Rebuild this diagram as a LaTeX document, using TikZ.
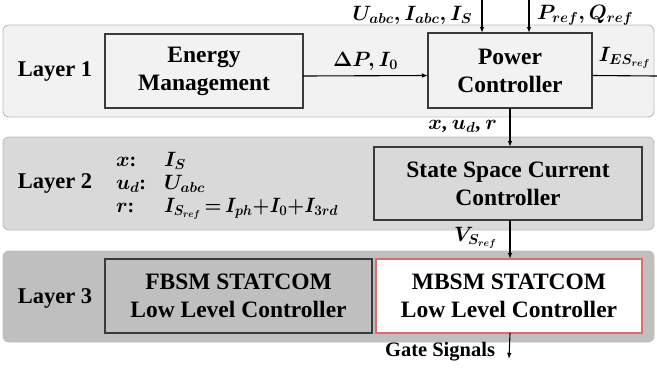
\documentclass[tikz,border=0pt]{standalone}
\usepackage{fontspec}
\setmainfont{Liberation Serif}
\usetikzlibrary{arrows.meta}
\definecolor{lone}{HTML}{F2F2F2}
\definecolor{ltwo}{HTML}{D9D9D9}
\definecolor{lthree}{HTML}{BFBFBF}
\definecolor{lborder}{HTML}{BDBDBD}
\definecolor{boxline}{HTML}{3A3A3A}
\definecolor{redline}{HTML}{E46A6A}
\begin{document}
\begin{tikzpicture}[x=1pt,y=-1pt,
  every node/.style={inner sep=0pt, outer sep=0pt},
  layerbox/.style={draw=lborder, line width=0.9pt, rounded corners=6pt, fill=#1, minimum width=651pt},
  blk/.style={draw=boxline, line width=1.1pt, align=center, font=\bfseries\fontsize{23.5}{28}\selectfont},
  lbl/.style={font=\bfseries\fontsize{22.5}{27}\selectfont},
  mlbl/.style={font=\bfseries\boldmath\fontsize{20}{24}\selectfont},
  arr/.style={line width=1.1pt, -{Latex[length=6pt,width=4.5pt]}},
  ln/.style={line width=1.1pt}]
\useasboundingbox (0,0) rectangle (657,368);
% layers
\node[layerbox=lone, minimum height=92pt] (l1) at (328.5,71) {};
\node[layerbox=ltwo, minimum height=93pt] (l2) at (328.5,183.5) {};
\node[layerbox=lthree, minimum height=91pt] (l3) at (328.5,296.5) {};
\node[lbl] (t1) at (55,71) {Layer 1};
\node[lbl] (t2) at (55,183) {Layer 2};
\node[lbl] (t3) at (55,298) {Layer 3};
% blocks
\node[blk, fill=lone, minimum width=198pt, minimum height=74pt] (em) at (204,71) {Energy\\Management};
\node[blk, fill=lone, minimum width=164pt, minimum height=75pt] (pc) at (510,70.5) {Power\\Controller};
\node[blk, fill=ltwo, minimum width=268pt, minimum height=73pt] (ss) at (508,183.5) {State Space Current\\Controller};
\node[blk, fill=lthree, minimum width=267pt, minimum height=74pt] (fb) at (238.5,296) {FBSM STATCOM\\Low Level Controller};
\node[blk, draw=redline, fill=white, minimum width=266pt, minimum height=74pt] (mb) at (509,296) {MBSM STATCOM\\Low Level Controller};
% coordinates
\coordinate (in1) at (482,0);
\coordinate (in2) at (529,0);
\coordinate (out) at (657,76);
\coordinate (gate) at (509,359);
% connectors
\draw[arr] ([yshift=-5pt]em.east) -- node[mlbl, above=5pt] (dp) {$\Delta P, I_0$} ([yshift=-5pt]pc.west);
\draw[arr] (in1) -- (in1 |- pc.north);
\draw[arr] (in2) -- (in2 |- pc.north);
\draw[ln] ([yshift=-5pt]pc.east) -- node[mlbl, above=7pt] (ies) {$I_{ES_{ref}}$} (out);
\draw[arr] (pc.south) -- (pc.south |- ss.north);
\draw[arr] (pc.south |- ss.south) -- (pc.south |- mb.north);
\draw[arr] (pc.south |- mb.south) -- (gate);
% labels
\node[mlbl, anchor=east] (uin) at (472,15) {$U_{abc}, I_{abc}, I_S$};
\node[mlbl, anchor=west] (pin) at (537,15) {$P_{ref}, Q_{ref}$};
\node[mlbl, anchor=east] (xur) at (497,126) {$x$, $u_d$, $r$};
\node[mlbl, anchor=east] (vs) at (497,238) {$V_{S_{ref}}$};
\node[font=\bfseries\fontsize{20.5}{24}\selectfont, anchor=east] (gs) at (495,352) {Gate Signals};
% layer 2 definitions
\node[mlbl, anchor=base west] (d1a) at (116,166) {$x$:};
\node[mlbl, anchor=base west] (d1b) at (164,166) {$I_S$};
\node[mlbl, anchor=base west] (d2a) at (116,189) {$u_d$:};
\node[mlbl, anchor=base west] (d2b) at (164,189) {$U_{abc}$};
\node[mlbl, anchor=base west] (d3a) at (116,212) {$r$:};
\node[mlbl, anchor=base west] (d3b) at (164,212) {\resizebox{174pt}{\height}{$I_{S_{ref}}\mskip3mu{=}\mskip3mu I_{ph}{+}I_0{+}I_{3rd}$}};
\end{tikzpicture}
\end{document}
